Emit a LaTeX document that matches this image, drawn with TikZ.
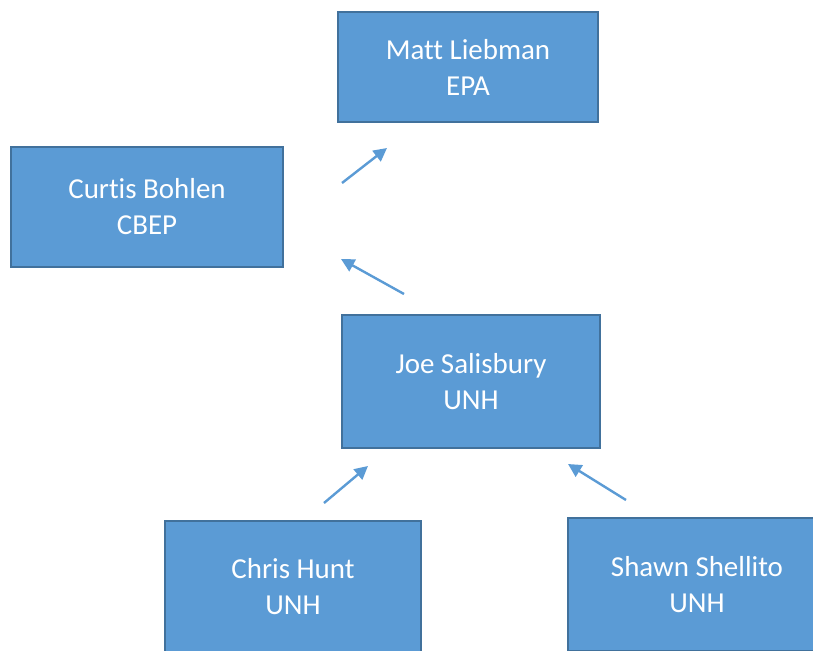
\documentclass[tikz,border=0pt]{standalone}
\usepackage{fontspec}
\setmainfont{Carlito}[Ligatures={NoCommon}]
\usepackage{tikz}
\usetikzlibrary{arrows.meta}

\definecolor{boxblue}{HTML}{5B9BD5}
\definecolor{boxedge}{HTML}{41719C}

\begin{document}
\begin{tikzpicture}[x=0.75pt, y=-0.75pt,
    person/.style={draw=boxedge, line width=1.5pt, fill=boxblue, text=white,
        align=center, inner sep=0pt,
        font=\fontsize{21.7}{27}\selectfont},
    link/.style={draw=boxblue, line width=1.8pt,
        -{Triangle[length=10pt, width=10pt]}}]
    % frame of the page
    \useasboundingbox (0,0) rectangle (813,650);
    \clip (0,0) rectangle (813,650);
    % people
    \node[person, minimum width=195pt, minimum height=82.5pt] (matt) at (468,67) {Matt Liebman\\EPA};
    \node[person, minimum width=204pt, minimum height=90pt] (curtis) at (147,207) {Curtis Bohlen\\CBEP};
    \node[person, minimum width=193.5pt, minimum height=99.75pt] (joe) at (471,381.5) {Joe Salisbury\\UNH};
    \node[person, minimum width=192pt, minimum height=99.75pt] (chris) at (293,587) {Chris Hunt\\UNH};
    \node[person, minimum width=193.5pt, minimum height=99.75pt] (shawn) at (697,584.5) {Shawn Shellito\\UNH};
    % arrow ends
    \coordinate (c2m) at (342,183);  \coordinate (m2) at (387,148);
    \coordinate (j2c) at (404,294);  \coordinate (c2) at (341,259);
    \coordinate (h2j) at (324,503);  \coordinate (j1) at (368,466);
    \coordinate (s2j) at (626,500);  \coordinate (j2) at (568,464);
    % arrows
    \draw[link] (c2m) -- (m2);
    \draw[link] (j2c) -- (c2);
    \draw[link] (h2j) -- (j1);
    \draw[link] (s2j) -- (j2);
\end{tikzpicture}
\end{document}
